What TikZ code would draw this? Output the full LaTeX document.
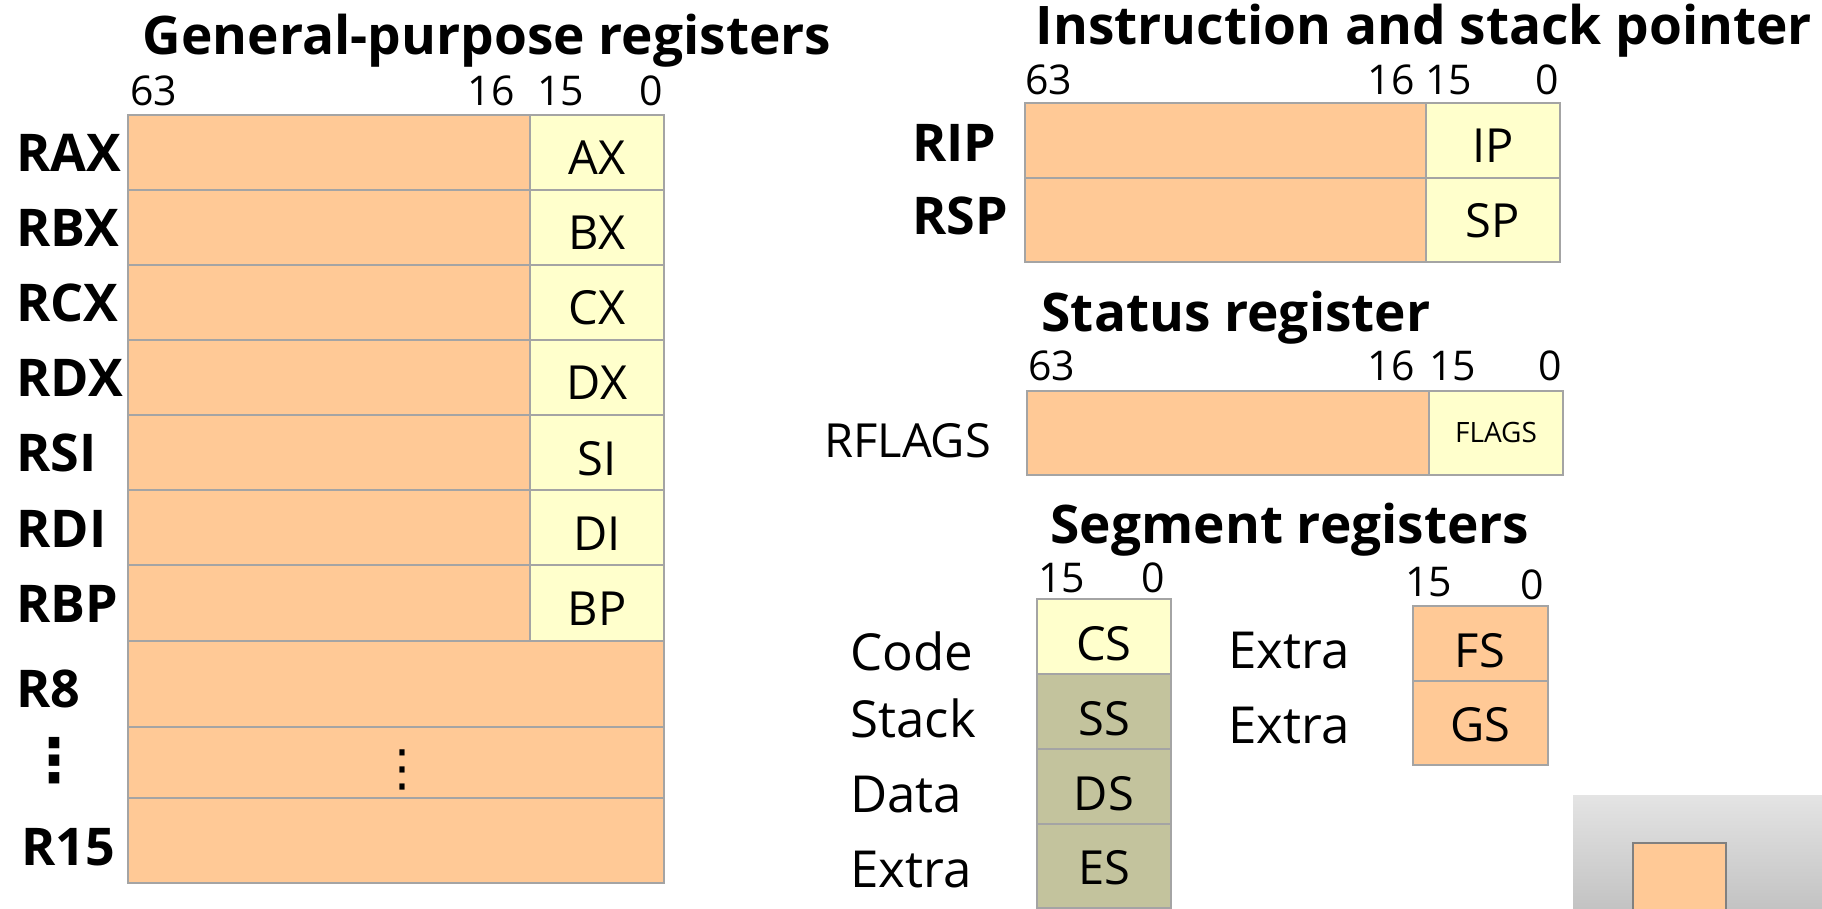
\documentclass[tikz,border=0pt]{standalone}
\usepackage{fontspec}
\setmainfont{Open Sans}
\newfontfamily\dejavu{DejaVu Sans}
\definecolor{regorange}{HTML}{FFC996}
\definecolor{regyellow}{HTML}{FFFFCC}
\definecolor{regolive}{HTML}{C3C39D}
\definecolor{cellborder}{HTML}{A4A4A4}
\definecolor{gradtop}{HTML}{E4E4E4}
\definecolor{gradbot}{HTML}{BEBEBE}
\newcommand\rc[6]{\node[cellbox, fill=#6, minimum width={(#4-#2)*0.5pt}, minimum height={(#5-#3)*0.5pt}] (#1) at (#2,#3) {};}
\begin{document}
\begin{tikzpicture}[x=0.5pt,y=-0.5pt,
 cellbox/.style={draw=cellborder, line width=0.75pt, inner sep=0pt, outer sep=0pt, anchor=north west},
 ttl/.style={inner sep=0pt, anchor=base, font=\bfseries\fontsize{26.6}{30}\selectfont},
 rlab/.style={inner sep=0pt, anchor=base west, font=\bfseries\fontsize{26}{30}\selectfont},
 slab/.style={inner sep=0pt, anchor=base west, font=\fontsize{25.5}{30}\selectfont},
 bitw/.style={inner sep=0pt, anchor=base west, font=\fontsize{20.5}{24}\selectfont},
 bite/.style={inner sep=0pt, anchor=base east, font=\fontsize{20.5}{24}\selectfont},
 ctext/.style={inner sep=0pt, anchor=base, font=\fontsize{23.5}{26}\selectfont}]
\useasboundingbox (0,0) rectangle (1822,909);

% ---------------- General-purpose registers
\node[ttl] (gptitle) at (487,55) {General-purpose registers};
\node[bitw] (gp63) at (130,106) {63};
\node[bite] (gp16) at (515,106) {16};
\node[bitw] (gp15) at (537,106) {15};
\node[bite] (gp0) at (663,106) {0};

\rc{raxh}{128}{115}{530}{190}{regorange}
\rc{rbxh}{128}{190}{530}{265}{regorange}
\rc{rcxh}{128}{265}{530}{340}{regorange}
\rc{rdxh}{128}{340}{530}{415}{regorange}
\rc{rsih}{128}{415}{530}{490}{regorange}
\rc{rdih}{128}{490}{530}{565}{regorange}
\rc{rbph}{128}{565}{530}{641}{regorange}
\rc{raxl}{530}{115}{664}{190}{regyellow}
\rc{rbxl}{530}{190}{664}{265}{regyellow}
\rc{rcxl}{530}{265}{664}{340}{regyellow}
\rc{rdxl}{530}{340}{664}{415}{regyellow}
\rc{rsil}{530}{415}{664}{490}{regyellow}
\rc{rdil}{530}{490}{664}{565}{regyellow}
\rc{rbpl}{530}{565}{664}{641}{regyellow}
\rc{r8}{128}{641}{664}{727}{regorange}
\rc{rdots}{128}{727}{664}{798}{regorange}
\rc{r15}{128}{798}{664}{883}{regorange}

\node[ctext] (ax) at (597,175) {AX};
\node[ctext] (bx) at (597,250) {BX};
\node[ctext] (cx) at (597,325) {CX};
\node[ctext] (dx) at (597,400) {DX};
\node[ctext] (si) at (597,475) {SI};
\node[ctext] (di) at (597,550) {DI};
\node[ctext] (bp) at (597,625) {BP};
\node[inner sep=0pt, anchor=base, font=\dejavu\fontsize{25}{28}\selectfont] (mdots) at (402,785) {⋮};

\node[rlab] (lrax) at (16,172) {RAX};
\node[rlab] (lrbx) at (16,247) {RBX};
\node[rlab] (lrcx) at (16,322) {RCX};
\node[rlab] (lrdx) at (16,397) {RDX};
\node[rlab] (lrsi) at (16,472) {RSI};
\node[rlab] (lrdi) at (16,547) {RDI};
\node[rlab] (lrbp) at (16,622) {RBP};
\node[rlab] (lr8) at (16,707) {R8};
\node[inner sep=0pt, anchor=base, font=\dejavu\bfseries\fontsize{30}{34}\selectfont] (ldots) at (55,781) {⋮};
\node[rlab] (lr15) at (21,865) {R15};

% ---------------- Instruction and stack pointer
\node[ttl] (iptitle) at (1424,45) {Instruction and stack pointer};
\node[bitw] (ip63) at (1025,95) {63};
\node[bite] (ip16) at (1415,95) {16};
\node[bitw] (ip15) at (1425,95) {15};
\node[bite] (ip0) at (1559,95) {0};
\rc{riph}{1025}{103}{1426}{178}{regorange}
\rc{rsph}{1025}{178}{1426}{262}{regorange}
\rc{ripl}{1426}{103}{1560}{178}{regyellow}
\rc{rspl}{1426}{178}{1560}{262}{regyellow}
\node[ctext] (ip) at (1493,163) {IP};
\node[ctext] (sp) at (1493,238) {SP};
\node[rlab] (lrip) at (912,162) {RIP};
\node[rlab] (lrsp) at (912,235) {RSP};

% ---------------- Status register
\node[ttl] (sttitle) at (1236,332) {Status register};
\node[bitw] (st63) at (1028,381) {63};
\node[bite] (st16) at (1415,381) {16};
\node[bitw] (st15) at (1429,381) {15};
\node[bite] (st0) at (1562,381) {0};
\rc{rflh}{1027}{391}{1429}{475}{regorange}
\rc{rfll}{1429}{391}{1563}{475}{regyellow}
\node[inner sep=0pt, anchor=base, font=\fontsize{14}{16}\selectfont] (flags) at (1496,443) {FLAGS};
\node[inner sep=0pt, anchor=base west, font=\fontsize{23.5}{28}\selectfont] (lrflags) at (824,458) {RFLAGS};

% ---------------- Segment registers
\node[ttl] (sgtitle) at (1290,543) {Segment registers};
\node[bitw] (sg15a) at (1038,592) {15};
\node[bite] (sg0a) at (1165,592) {0};
\rc{cs}{1037}{599}{1171}{674}{regyellow}
\rc{ss}{1037}{674}{1171}{749}{regolive}
\rc{ds}{1037}{749}{1171}{824}{regolive}
\rc{es}{1037}{824}{1171}{908}{regolive}
\node[ctext] (tcs) at (1104,660) {CS};
\node[ctext] (tss) at (1104,735) {SS};
\node[ctext] (tds) at (1104,810) {DS};
\node[ctext] (tes) at (1104,884) {ES};
\node[slab] (lcode) at (850,670) {Code};
\node[slab] (lstack) at (850,737) {Stack};
\node[slab] (ldata) at (850,812) {Data};
\node[slab] (lextra) at (850,887) {Extra};

\node[bitw] (sg15b) at (1405,596) {15};
\node[bite] (sg0b) at (1544,599) {0};
\rc{fs}{1413}{606}{1548}{681}{regorange}
\rc{gs}{1413}{681}{1548}{765}{regorange}
\node[ctext] (tfs) at (1480,667) {FS};
\node[ctext] (tgs) at (1480,741) {GS};
\node[slab] (lextraf) at (1228,668) {Extra};
\node[slab] (lextrag) at (1228,743) {Extra};

% ---------------- corner fragment
\node[inner sep=0pt, outer sep=0pt, anchor=north west, top color=gradtop, bottom color=gradbot, minimum width={249*0.5pt}, minimum height={130*0.5pt}] (legendbg) at (1573,795) {};
\node[cellbox, draw=gray, line width=1pt, fill=regorange, minimum width={93*0.5pt}, minimum height={80*0.5pt}] (legendbox) at (1633,843) {};
\end{tikzpicture}
\end{document}
